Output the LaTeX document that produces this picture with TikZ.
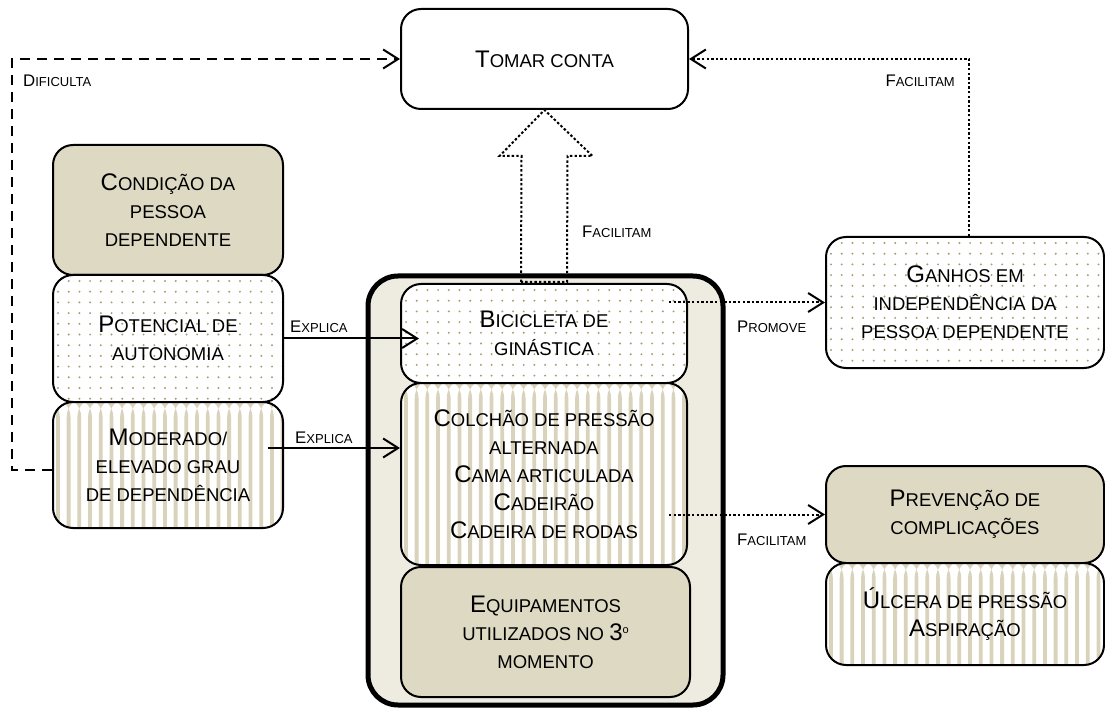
\documentclass[tikz,border=0pt]{standalone}
\usepackage{fontspec}
\setmainfont{Liberation Sans}
\usetikzlibrary{arrows.meta,calc}

\definecolor{tanfill}{HTML}{DDD9C3}
\definecolor{panel}{HTML}{EEECE1}
\definecolor{dotc}{HTML}{A89E74}
\definecolor{stripec}{HTML}{D9D3BB}

% small-caps look: larger initial, smaller capitals after it
\newcommand\Ini[1]{{\fontsize{24}{28}\selectfont #1}}
\newcommand\ini[1]{{\fontsize{16.8}{16}\selectfont #1}}

\begin{document}
\begin{tikzpicture}[x=1pt,y=-1pt,
  box/.style={draw, line width=2pt, rounded corners=20pt, align=center,
    inner sep=0pt, font=\fontsize{18.5}{28}\selectfont},
  plainbox/.style={box, fill=white},
  tanbox/.style={box, fill=tanfill},
  dotbox/.style={box, fill=white, path picture={
    \foreach \i in {0,...,27}{\foreach \j in {0,...,13}{
      \fill[dotc] ($(path picture bounding box.north west)+(5+10.7*\i,6+10.7*\j)$) circle[radius=1.1pt];}}}},
  stripebox/.style={box, fill=white, path picture={
    \foreach \i in {0,...,27}{
      \fill[stripec] ($(path picture bounding box.north west)+(3+10.7*\i,-5)$) rectangle ++(3.8,210);}}},
  container/.style={draw, line width=5pt, rounded corners=30pt, fill=panel},
  lbl/.style={inner sep=0pt, font=\fontsize{13}{13}\selectfont},
  link/.style={line width=2pt, -{Straight Barb[length=15pt,width=19pt,line width=2pt]}},
  dotlink/.style={link, dash pattern=on 2.4pt off 2.2pt},
  dashlink/.style={link, line width=2.5pt, dash pattern=on 10pt off 7pt},
  fatarrow/.style={line width=2pt, dash pattern=on 2.4pt off 2.2pt},
]
\useasboundingbox[fill=white] (0,0) rectangle (1105,708);

% central panel with the equipment boxes
\node[container, minimum width=355pt, minimum height=429pt] (cont) at (545.5,490.5) {};
\node[dotbox, minimum width=286pt, minimum height=99pt] (bic) at (544,333.5)
  {\Ini{B}ICICLETA DE\\GINÁSTICA};
\node[stripebox, minimum width=286pt, minimum height=182pt] (col) at (544,474)
  {\Ini{C}OLCHÃO DE PRESSÃO\\ALTERNADA\\\Ini{C}AMA ARTICULADA\\\Ini{C}ADEIRÃO\\\Ini{C}ADEIRA DE RODAS};
\node[tanbox, minimum width=289pt, minimum height=130pt] (equip) at (545.5,632)
  {\Ini{E}QUIPAMENTOS\\UTILIZADOS NO \Ini{3}\raisebox{7pt}{\fontsize{11}{11}\selectfont o}\\MOMENTO};

% top box
\node[plainbox, minimum width=287pt, minimum height=100pt] (tomar) at (544.5,59)
  {\Ini{T}OMAR CONTA};

% left column
\node[tanbox, minimum width=230pt, minimum height=130pt] (cond) at (168,210)
  {\Ini{C}ONDIÇÃO DA\\PESSOA\\DEPENDENTE};
\node[dotbox, minimum width=230pt, minimum height=127pt] (pot) at (168,338.5)
  {\Ini{P}OTENCIAL DE\\AUTONOMIA};
\node[stripebox, minimum width=230pt, minimum height=126pt] (mod) at (168,465)
  {\Ini{M}ODERADO/\\ELEVADO GRAU\\DE DEPENDÊNCIA};

% right column
\node[dotbox, minimum width=278pt, minimum height=131pt] (gan) at (965,302.5)
  {\Ini{G}ANHOS EM\\INDEPENDÊNCIA DA\\PESSOA DEPENDENTE};
\node[tanbox, minimum width=278pt, minimum height=97pt] (prev) at (965,514.5)
  {\Ini{P}REVENÇÃO DE\\COMPLICAÇÕES};
\node[stripebox, minimum width=278pt, minimum height=102pt] (ulc) at (965,614)
  {\Ini{Ú}LCERA DE PRESSÃO\\\Ini{A}SPIRAÇÃO};

% connectors
\draw[dashlink] ($(mod.west)+(0,5)$) -- ++(-40,0) |- (tomar.west);
\draw[dotlink] ($(gan.north)+(4,0)$) |- (tomar.east);
\draw[fatarrow] ($(bic.north)+(-23,-1)$) -- ($(tomar.south)+(-23,46)$)
  -- ($(tomar.south)+(-45,46)$) -- (tomar.south) -- ($(tomar.south)+(48,46)$)
  -- ($(tomar.south)+(23,46)$) -- ($(bic.north)+(23,-1)$) -- cycle;
\draw[link] (pot.east) -- ($(pot.east -| bic.west)+(19,0)$);
\draw[link] ($(mod.east)+(-16,-17)$) coordinate (e2) -- (e2 -| col.west);
\draw[dotlink] ($(gan.west -| bic.east)+(-19,0)$) -- (gan.west);
\draw[dotlink] ($(prev.west -| col.east)+(-19,0)$) -- (prev.west);

% connector labels
\node[lbl, anchor=west] (ldif) at (23,81) {\ini{D}IFICULTA};
\node[lbl, anchor=east] (lfacr) at (955,81) {\ini{F}ACILITAM};
\node[lbl, anchor=west] (lfacu) at (582,232) {\ini{F}ACILITAM};
\node[lbl, anchor=west] (lexp1) at (290,327) {\ini{E}XPLICA};
\node[lbl, anchor=west] (lexp2) at (295,438) {\ini{E}XPLICA};
\node[lbl, anchor=west] (lprom) at (737,327) {\ini{P}ROMOVE};
\node[lbl, anchor=west] (lfacl) at (737,540) {\ini{F}ACILITAM};
\end{tikzpicture}
\end{document}
